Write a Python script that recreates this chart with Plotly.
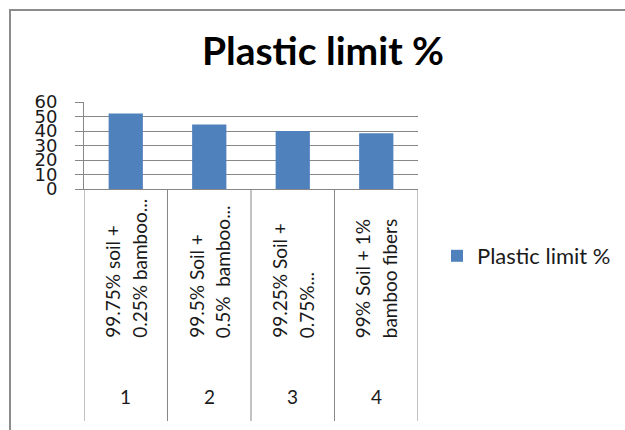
import plotly.graph_objects as go

# ---- data ----
series_name = "Plastic limit %"
category_numbers = ["1", "2", "3", "4"]
category_labels = [
    "99.75% soil +\n0.25% bamboo...",
    "99.5% Soil +\n0.5%  bamboo...",
    "99.25% Soil +\n0.75%...",
    "99% Soil + 1%\nbamboo fibers",
]
plastic_limit = [52, 44.5, 40, 38.5]
y_ticks = [0, 10, 20, 30, 40, 50, 60]

W, H = 625, 430
L, R, T, B = 84, 207, 102, 241
plot_h = H - T - B  # px
plot_w = W - L - R

def py(pix):  # pixel y -> paper y
    return (H - B - pix) / plot_h

def px(pix):  # pixel x -> paper x
    return (pix - L) / plot_w

grey = "#878787"
blue = "#4F81BD"

xs = list(range(1, len(plastic_limit) + 1))

fig = go.Figure()
fig.add_trace(go.Bar(
    x=xs, y=plastic_limit, name=series_name,
    marker=dict(color=blue, line=dict(width=0)),
    showlegend=True,
))

shapes = []
# table vertical dividers
n = len(xs)
for k in range(n + 1):
    xb = 0.5 + k
    shapes.append(dict(type="line", xref="x", yref="paper", x0=xb, x1=xb,
                       y0=0, y1=py(421), line=dict(color=grey, width=1)))
# outer frame (left and top)
shapes.append(dict(type="line", xref="paper", yref="paper", x0=px(10), x1=px(10),
                   y0=py(9), y1=py(432), line=dict(color="#8c8c8c", width=2)))
shapes.append(dict(type="line", xref="paper", yref="paper", x0=px(9), x1=px(630),
                   y0=py(10), y1=py(10), line=dict(color="#8c8c8c", width=2)))

annotations = []
for i, lab in enumerate(category_labels):
    lines = lab.split("\n")
    for j, ln in enumerate(lines):
        annotations.append(dict(
            x=xs[i], xref="x", y=py(340), yref="paper",
            text=ln, showarrow=False, textangle=-90,
            xanchor="center", yanchor="bottom",
            xshift=(-13.5 if j == 0 else 13.5),
            font=dict(family="Lato", size=19, color="#1a1a1a"),
        ))
    annotations.append(dict(
        x=xs[i], xref="x", y=py(396), yref="paper",
        text=category_numbers[i], showarrow=False,
        xanchor="center", yanchor="middle",
        font=dict(family="Lato", size=19, color="#1a1a1a"),
    ))

fig.update_layout(
    width=W, height=H, autosize=False,
    margin=dict(l=L, r=R, t=T, b=B, pad=0, autoexpand=False),
    paper_bgcolor="white", plot_bgcolor="white",
    title=dict(text="<b>Plastic limit %</b>", x=323 / W, xanchor="center",
               y=1 - 51 / H, yanchor="middle",
               font=dict(family="Lato", size=39, color="black")),
    bargap=0.59,
    xaxis=dict(range=[0.5, n + 0.5], showticklabels=False, showgrid=False,
               zeroline=False, showline=True, linecolor=grey, linewidth=1,
               ticks="", fixedrange=True, automargin=False),
    yaxis=dict(range=[0, 60], tickvals=y_ticks, ticktext=[str(v) for v in y_ticks],
               showgrid=True, gridcolor=grey, gridwidth=1, automargin=False,
               zeroline=False, showline=True, linecolor=grey, linewidth=1,
               ticks="outside", ticklen=8, tickcolor=grey,
               ticklabelstandoff=14,
               tickfont=dict(family="DejaVu Sans", size=18, color="#1a1a1a")),
    legend=dict(x=px(437), y=py(256), xanchor="left", yanchor="middle",
                font=dict(family="Lato", size=22, color="#1a1a1a"),
                bgcolor="rgba(0,0,0,0)", itemwidth=30),
    shapes=shapes, annotations=annotations,
)

fig.write_html("out.html", config={"displayModeBar": False},
               post_script="document.body.style.margin='0px';document.body.style.padding='0px';")
